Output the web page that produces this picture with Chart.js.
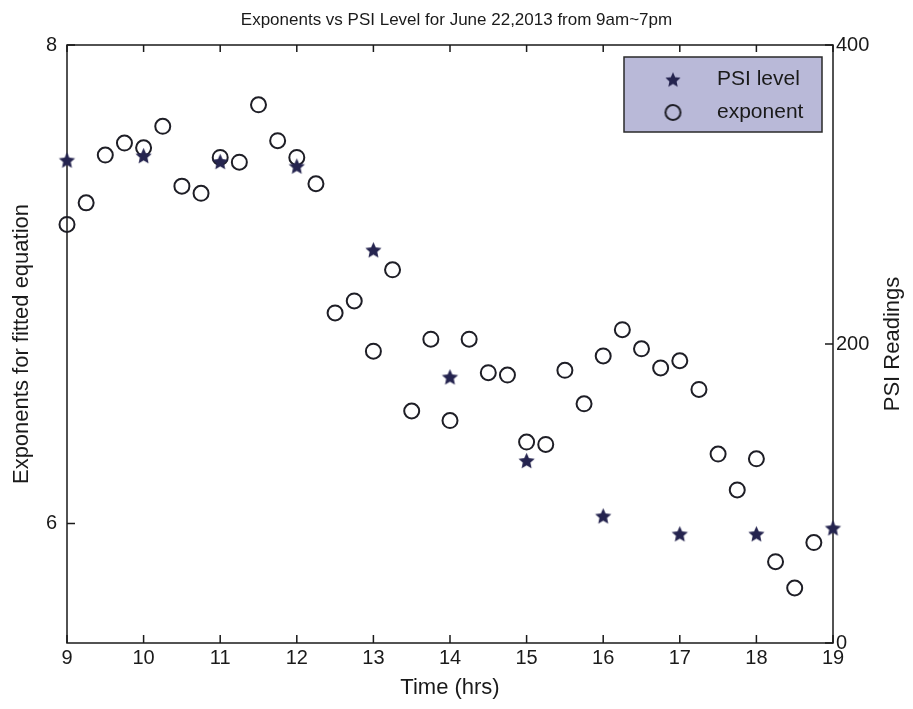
<!DOCTYPE html>
<html>
<head>
<meta charset="utf-8">
<script src="https://cdn.jsdelivr.net/npm/chart.js@4.4.1/dist/chart.umd.min.js"></script>
<style>
  html, body { margin: 0; padding: 0; background: #ffffff; }
  #wrap { width: 913px; height: 709px; }
</style>
</head>
<body>
<div id="wrap"><canvas id="c" width="913" height="709"></canvas></div>
<script>
// ---- data ----
const exponentHours = [9, 9.25, 9.5, 9.75, 10, 10.25, 10.5, 10.75, 11, 11.25, 11.5, 11.75,
  12, 12.25, 12.5, 12.75, 13, 13.25, 13.5, 13.75, 14, 14.25, 14.5, 14.75, 15, 15.25, 15.5, 15.75,
  16, 16.25, 16.5, 16.75, 17, 17.25, 17.5, 17.75, 18, 18.25, 18.5, 18.75];
const exponentValues = [7.25, 7.34, 7.54, 7.59, 7.57, 7.66, 7.41, 7.38, 7.53, 7.51, 7.75, 7.60,
  7.53, 7.42, 6.88, 6.93, 6.72, 7.06, 6.47, 6.77, 6.43, 6.77, 6.63, 6.62, 6.34, 6.33, 6.64, 6.50,
  6.70, 6.81, 6.73, 6.65, 6.68, 6.56, 6.29, 6.14, 6.27, 5.84, 5.73, 5.92];
const psiHours = [9, 10, 11, 12, 13, 14, 15, 16, 17, 18, 19];
const psiValues = [323, 326, 322, 319, 263, 178, 122, 85, 73, 73, 77];

const xTickValues = [9, 10, 11, 12, 13, 14, 15, 16, 17, 18, 19];
const leftTickValues = [6, 8];
const rightTickValues = [0, 200, 400];

const titleText = 'Exponents vs PSI Level for June 22,2013 from 9am~7pm';
const xTitle = 'Time (hrs)';
const yLeftTitle = 'Exponents for fitted equation';
const yRightTitle = 'PSI Readings';
const psiLabel = 'PSI level';
const expLabel = 'exponent';

// ---- styles ----
const FONT = "'Liberation Sans', Arial, Helvetica, sans-serif";
const INK = '#1a1a1a';
const STAR_COLOR = '#25244f';
const CIRCLE_COLOR = '#1e1e26';

function makeStar(r, color) {
  const s = Math.ceil(r * 2 + 2);
  const c = document.createElement('canvas');
  c.width = s; c.height = s;
  const g = c.getContext('2d');
  g.fillStyle = color;
  g.beginPath();
  for (let i = 0; i < 10; i++) {
    const rad = (i % 2) ? r * 0.47 : r;
    const a = -Math.PI / 2 + i * Math.PI / 5;
    g.lineTo(s / 2 + rad * Math.cos(a), s / 2 + 0.8 + rad * Math.sin(a));
  }
  g.closePath();
  g.fill();
  return c;
}
function makeCircle(r, lw, color) {
  const s = Math.ceil(r * 2 + lw + 2);
  const c = document.createElement('canvas');
  c.width = s; c.height = s;
  const g = c.getContext('2d');
  g.strokeStyle = color;
  g.lineWidth = lw;
  g.beginPath();
  g.arc(s / 2, s / 2, r, 0, Math.PI * 2);
  g.stroke();
  return c;
}
const starImg = makeStar(8.5, STAR_COLOR);
const legendStarImg = makeStar(8, STAR_COLOR);
const circleImg = makeCircle(7.5, 2, CIRCLE_COLOR);

const frameLW = 1.5;
const tickLen = 8;

const matlabFrame = {
  id: 'matlabFrame',
  afterLayout(chart) {
    const ca = chart.chartArea;
    const lg = chart.legend;
    const bgW = 198, bgH = 75;
    const bgX = ca.right - 11 - bgW, bgY = ca.top + 12;
    chart.$legendBg = { x: bgX, y: bgY, w: bgW, h: bgH };
    if (lg) {
      lg.left = bgX + 3.5;
      lg.right = lg.left + lg.width;
      lg.top = bgY;
      lg.bottom = ca.bottom;
      lg.height = ca.bottom - bgY;
    }
  },
  beforeDraw(chart) {
    const bg = chart.$legendBg;
    if (!bg) return;
    const ctx = chart.ctx;
    ctx.save();
    ctx.fillStyle = '#b9b9d8';
    ctx.fillRect(bg.x, bg.y, bg.w, bg.h);
    ctx.strokeStyle = '#2a2a2a';
    ctx.lineWidth = 1.5;
    ctx.strokeRect(bg.x, bg.y, bg.w, bg.h);
    ctx.restore();
  },
  beforeDatasetsDraw(chart) {
    const ctx = chart.ctx;
    const ca = chart.chartArea;
    const sx = chart.scales.x, sy = chart.scales.y, sy1 = chart.scales.y1;
    ctx.save();
    ctx.strokeStyle = INK;
    ctx.lineWidth = frameLW;
    ctx.strokeRect(ca.left, ca.top, ca.right - ca.left, ca.bottom - ca.top);
    ctx.beginPath();
    sx.ticks.forEach(t => {
      const px = sx.getPixelForValue(t.value);
      ctx.moveTo(px, ca.bottom); ctx.lineTo(px, ca.bottom - tickLen);
      ctx.moveTo(px, ca.top); ctx.lineTo(px, ca.top + tickLen - 1);
    });
    sy.ticks.forEach(t => {
      const py = sy.getPixelForValue(t.value);
      ctx.moveTo(ca.left, py); ctx.lineTo(ca.left + tickLen, py);
    });
    sy1.ticks.forEach(t => {
      const py = sy1.getPixelForValue(t.value);
      ctx.moveTo(ca.right, py); ctx.lineTo(ca.right - tickLen, py);
    });
    ctx.stroke();
    ctx.restore();
  },
  afterDraw(chart) {
    const ctx = chart.ctx;
    const ca = chart.chartArea;
    const s = chart.scales.y1;
    ctx.save();
    ctx.translate(s.right - 20, (ca.top + ca.bottom) / 2);
    ctx.rotate(-Math.PI / 2);
    ctx.font = '22px ' + FONT;
    ctx.fillStyle = INK;
    ctx.textAlign = 'center';
    ctx.textBaseline = 'middle';
    ctx.fillText(yRightTitle, 0, 0);
    ctx.restore();
  }
};

const tickFont = { family: FONT, size: 20 };
const axisTitleFont = { family: FONT, size: 22 };

new Chart(document.getElementById('c'), {
  type: 'scatter',
  data: {
    datasets: [
      {
        label: psiLabel,
        data: psiHours.map((h, i) => ({ x: h, y: psiValues[i] })),
        yAxisID: 'y1',
        pointStyle: starImg,
        pointRadius: 8,
        pointBackgroundColor: STAR_COLOR,
        pointBorderColor: STAR_COLOR,
        showLine: false,
        clip: false
      },
      {
        label: expLabel,
        data: exponentHours.map((h, i) => ({ x: h, y: exponentValues[i] })),
        yAxisID: 'y',
        pointStyle: 'circle',
        pointRadius: 7.5,
        pointBorderWidth: 2,
        pointBorderColor: CIRCLE_COLOR,
        pointBackgroundColor: 'rgba(0,0,0,0)',
        showLine: false,
        clip: false
      }
    ]
  },
  options: {
    responsive: false,
    animation: false,
    events: [],
    layout: { padding: 0 },
    scales: {
      x: {
        type: 'linear',
        position: 'bottom',
        min: 9, max: 19,
        afterBuildTicks: s => { s.ticks = xTickValues.map(v => ({ value: v })); },
        afterFit: s => { s.height = 66; },
        grid: { display: false, drawTicks: false, tickLength: 0 },
        border: { display: false },
        ticks: { font: tickFont, color: INK, padding: 3, maxRotation: 0, autoSkip: false },
        title: { display: true, text: xTitle, font: axisTitleFont, color: INK, padding: { top: 0, bottom: 8 } }
      },
      y: {
        type: 'linear',
        position: 'left',
        min: 5.5, max: 8,
        afterBuildTicks: s => { s.ticks = leftTickValues.map(v => ({ value: v })); },
        afterFit: s => { s.width = 67; },
        grid: { display: false, drawTicks: false, tickLength: 0 },
        border: { display: false },
        ticks: { font: tickFont, color: INK, padding: 10, autoSkip: false },
        title: { display: true, text: yLeftTitle, font: axisTitleFont, color: INK, padding: { top: 9, bottom: 0 } }
      },
      y1: {
        type: 'linear',
        position: 'right',
        min: 0, max: 400,
        afterBuildTicks: s => { s.ticks = rightTickValues.map(v => ({ value: v })); },
        afterFit: s => { s.width = 80; },
        grid: { display: false, drawTicks: false, tickLength: 0 },
        border: { display: false },
        ticks: { font: tickFont, color: INK, padding: 3, autoSkip: false }
      }
    },
    plugins: {
      title: {
        display: true,
        text: titleText,
        color: INK,
        font: { family: FONT, size: 17, weight: 'normal' },
        padding: { top: 10, bottom: 14.6 }
      },
      legend: {
        display: true,
        position: 'chartArea',
        align: 'start',
        labels: {
          usePointStyle: true,
          pointStyleWidth: 67,
          boxHeight: 12,
          padding: 12,
          color: INK,
          font: { family: FONT, size: 21 },
          generateLabels: chart => [
            { text: psiLabel, pointStyle: legendStarImg, fillStyle: STAR_COLOR, strokeStyle: STAR_COLOR, lineWidth: 0, hidden: false, datasetIndex: 0, fontColor: INK },
            { text: expLabel, pointStyle: circleImg, fillStyle: 'rgba(0,0,0,0)', strokeStyle: CIRCLE_COLOR, lineWidth: 0, hidden: false, datasetIndex: 1, fontColor: INK }
          ]
        }
      },
      tooltip: { enabled: false }
    }
  },
  plugins: [matlabFrame]
});
</script>
</body>
</html>
